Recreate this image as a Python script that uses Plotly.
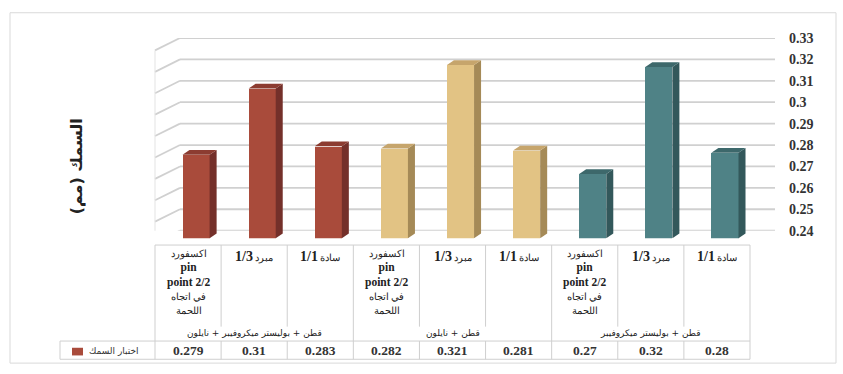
import plotly.graph_objects as go

# ---------------- data ----------------
groups = ["قطن + بوليستر ميكروفيبر + نايلون", "قطن + نايلون", "قطن + بوليستر ميكروفيبر"]
categories = ["اكسفورد<br>pin<br>point 2/2<br>في اتجاه<br>اللحمة", "1/3 مبرد", "1/1 سادة"] * 3
values = [0.279, 0.31, 0.283, 0.282, 0.321, 0.281, 0.27, 0.32, 0.28]
value_labels = ["0.279", "0.31", "0.283", "0.282", "0.321", "0.281", "0.27", "0.32", "0.28"]
tick_vals = [0.24, 0.25, 0.26, 0.27, 0.28, 0.29, 0.30, 0.31, 0.32, 0.33]
tick_labels = ["0.24", "0.25", "0.26", "0.27", "0.28", "0.29", "0.3", "0.31", "0.32", "0.33"]
series_name = "اختبار السمك"
y_title = "السمك (مم)"

# ---------------- style ----------------
W, H = 843, 374
front = ["#A94B3B"] * 3 + ["#E2C384"] * 3 + ["#4F8286"] * 3
side = ["#74302A"] * 3 + ["#A58A57"] * 3 + ["#33585B"] * 3
top = ["#8C3C31"] * 3 + ["#C6A56C"] * 3 + ["#3D686B"] * 3
SERIF = "Liberation Serif, DejaVu Serif, serif"


def px(x):
    return x / W


def py(y):
    return 1 - y / H


n = len(values)
tbl_l, tbl_r = 155, 750
colw = (tbl_r - tbl_l) / n
bar_w = 0.41
dx = 0.106
dy = 0.00224
ymin, ymax = tick_vals[0], tick_vals[-1]

fig = go.Figure()
xs = list(range(n))
fig.add_trace(go.Bar(
    x=xs, y=values, marker=dict(color=front, line=dict(width=0)),
    width=bar_w, xaxis="x", yaxis="y", showlegend=False,
    hovertext=value_labels, hoverinfo="text",
))

shapes = []
# chart border
shapes.append(dict(type="rect", xref="paper", yref="paper", x0=px(10), x1=px(836), y0=py(371), y1=py(6),
                   line=dict(color="#d9d9d9", width=1), layer="below"))
# back-wall gridlines + slanted side-wall lines
slant = 0.0058
for v in tick_vals:
    shapes.append(dict(type="line", xref="paper", yref="y2", x0=px(180), x1=px(775), y0=v, y1=v,
                       line=dict(color="#d0d0d0", width=1.8), layer="below"))
    shapes.append(dict(type="line", xref="paper", yref="y2", x0=px(155), x1=px(180), y0=v - slant, y1=v,
                       line=dict(color="#d0d0d0", width=1.8), layer="below"))
shapes.append(dict(type="line", xref="paper", yref="y2", x0=px(155), x1=px(155), y0=ymin - slant, y1=ymax - slant,
                   line=dict(color="#e3e3e3", width=1), layer="below"))

# 3D side and top faces of the bars
for i, v in enumerate(values):
    xl, xr = i - bar_w / 2, i + bar_w / 2
    shapes.append(dict(type="path", xref="x", yref="y",
                       path=f"M{xr},{ymin} L{xr+dx},{ymin+dy} L{xr+dx},{v+dy} L{xr},{v} Z",
                       fillcolor=side[i], line=dict(width=0), layer="above"))
    shapes.append(dict(type="path", xref="x", yref="y",
                       path=f"M{xl},{v} L{xr},{v} L{xr+dx},{v+dy} L{xl+dx},{v+dy} Z",
                       fillcolor=top[i], line=dict(width=0), layer="above"))

# data table
grid_c = "#cfcfcf"
t_top, t_mid, t_bot = 248, 348, 367
inner_bot = 333
shapes.append(dict(type="line", xref="paper", yref="paper", x0=px(tbl_l), x1=px(tbl_r), y0=py(t_top), y1=py(t_top),
                   line=dict(color=grid_c, width=1)))
shapes.append(dict(type="line", xref="paper", yref="paper", x0=px(60), x1=px(tbl_r), y0=py(t_mid), y1=py(t_mid),
                   line=dict(color=grid_c, width=1)))
shapes.append(dict(type="line", xref="paper", yref="paper", x0=px(60), x1=px(tbl_r), y0=py(t_bot), y1=py(t_bot),
                   line=dict(color=grid_c, width=1)))
shapes.append(dict(type="line", xref="paper", yref="paper", x0=px(60), x1=px(60), y0=py(t_mid), y1=py(t_bot),
                   line=dict(color=grid_c, width=1)))
for k in range(n + 1):
    xk = tbl_l + k * colw
    if k % 3 == 0:
        y0, y1 = t_top, t_bot
    else:
        y0, y1 = t_top, inner_bot
        shapes.append(dict(type="line", xref="paper", yref="paper", x0=px(xk), x1=px(xk), y0=py(t_mid), y1=py(t_bot),
                           line=dict(color=grid_c, width=1)))
    shapes.append(dict(type="line", xref="paper", yref="paper", x0=px(xk), x1=px(xk), y0=py(y0), y1=py(y1),
                       line=dict(color=grid_c, width=1)))
# legend key square
shapes.append(dict(type="rect", xref="paper", yref="paper", x0=px(72), x1=px(83), y0=py(363), y1=py(355),
                   fillcolor=front[0], line=dict(width=0)))

annotations = []
for i, c in enumerate(categories):
    cx = tbl_l + (i + 0.5) * colw
    if "<br>" in c:
        parts = c.split("<br>")
        ar = "<span style='font-size:9.5px'>{}</span>"
        la = "<b><span style='font-size:11.5px'>{}</span></b>"
        txt = "<br>".join([ar.format(parts[0]), la.format(parts[1]), la.format(parts[2]),
                           ar.format(parts[3]), ar.format(parts[4])])
        size = 11
    else:
        num, word = c.split(" ", 1)
        txt = f"<b><span style='font-size:14px'>{num}</span></b> {word}"
        size = 9.5
    annotations.append(dict(xref="paper", yref="paper", x=px(cx), y=py(250), text=txt, showarrow=False,
                            xanchor="center", yanchor="top", align="center",
                            font=dict(family=SERIF, size=size, color="#222")))
    annotations.append(dict(xref="paper", yref="paper", x=px(cx), y=py(357.5), text=f"<b>{value_labels[i]}</b>",
                            showarrow=False, xanchor="center", yanchor="middle",
                            font=dict(family=SERIF, size=13.5, color="#333")))
for g, name in enumerate(groups):
    cx = tbl_l + (3 * g + 1.5) * colw
    annotations.append(dict(xref="paper", yref="paper", x=px(cx), y=py(340), text=name, showarrow=False,
                            xanchor="center", yanchor="middle",
                            font=dict(family="DejaVu Sans, sans-serif", size=9, color="#222")))
annotations.append(dict(xref="paper", yref="paper", x=px(114), y=py(358), text=series_name, showarrow=False,
                        xanchor="center", yanchor="middle",
                        font=dict(family="DejaVu Sans, sans-serif", size=9, color="#333")))
annotations.append(dict(xref="paper", yref="paper", x=px(76), y=py(166), text=f"<b>{y_title}</b>", showarrow=False,
                        textangle=-90, xanchor="center", yanchor="middle",
                        font=dict(family="DejaVu Sans, sans-serif", size=16, color="#222")))

fig.update_layout(
    width=W, height=H, margin=dict(l=0, r=0, t=0, b=0),
    paper_bgcolor="white", plot_bgcolor="rgba(0,0,0,0)",
    xaxis=dict(domain=[px(163), px(758)], range=[-0.5, n - 0.5], visible=False, fixedrange=True),
    yaxis=dict(domain=[py(241), py(241 - 200.7)], range=[ymin, ymax], visible=False, fixedrange=True),
    yaxis2=dict(domain=[py(233), py(32.3)], range=[ymin, ymax], anchor="free", position=px(788), side="right",
                tickvals=tick_vals, ticktext=tick_labels, showgrid=False, zeroline=False, showline=False,
                ticks="", tickfont=dict(family=SERIF, size=14, color="#333", weight="bold")),
    shapes=shapes, annotations=annotations, bargap=0,
)
fig.write_html("out.html")
